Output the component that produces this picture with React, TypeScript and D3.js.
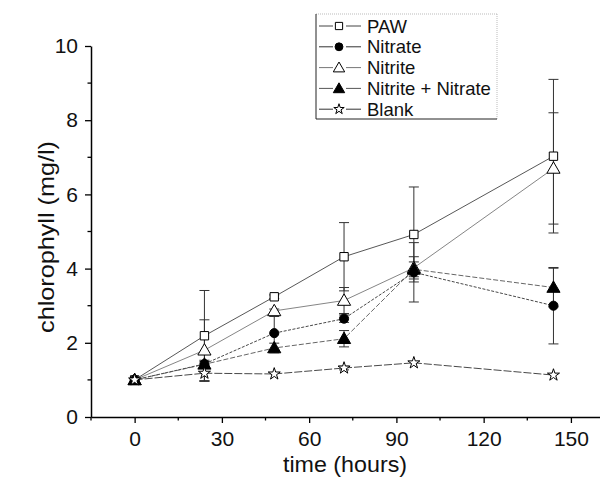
import React, { useEffect, useRef } from 'react';
import * as d3 from 'd3';

// time points (hours)
const times = [0, 24, 48, 72, 96, 144];

const seriesNames = ['PAW', 'Nitrate', 'Nitrite', 'Nitrite + Nitrate', 'Blank'];
const pawValues = [1.0, 2.19, 3.24, 4.32, 4.92, 7.03];
const nitrateValues = [1.0, 1.43, 2.26, 2.65, 3.9, 3.0];
const nitriteValues = [1.0, 1.8, 2.86, 3.14, 4.02, 6.7];
const nitNitValues = [1.0, 1.42, 1.86, 2.11, 3.98, 3.49];
const blankValues = [1.0, 1.18, 1.16, 1.32, 1.46, 1.13];

const pawErr = [0, 1.22, 0.05, 0.92, 1.28, 2.07];
const nitrateErr = [0, 0.1, 0.45, 0.1, 0.8, 1.03];
const nitriteErr = [0, 0.82, 0.05, 0.35, 0.3, 1.5];
const nitNitErr = [0, 0.08, 0.13, 0.22, 0.2, 0.52];
const blankErr = [0, 0.22, 0.02, 0.05, 0.03, 0.02];

const xTicks = [0, 30, 60, 90, 120, 150];
const yTicks = [0, 2, 4, 6, 8, 10];

const FONT = '"Liberation Sans", Arial, sans-serif';

function App() {
  const ref = useRef<SVGSVGElement>(null);

  useEffect(() => {
    const width = 600;
    const height = 485;
    const svg = d3.select(ref.current)
      .attr('width', width)
      .attr('height', height)
      .style('font-family', FONT);
    svg.selectAll('*').remove();

    const x = d3.scaleLinear().domain([-15, 160]).range([91, 600]);
    const y = d3.scaleLinear().domain([0, 10]).range([417, 46]);

    const series = [
      { name: seriesNames[0], values: pawValues, err: pawErr, symbol: 'square', fill: 'white', dash: null, stroke: '#444' },
      { name: seriesNames[1], values: nitrateValues, err: nitrateErr, symbol: 'circle', fill: 'black', dash: '3,1.5', stroke: '#333' },
      { name: seriesNames[2], values: nitriteValues, err: nitriteErr, symbol: 'triangle', fill: 'white', dash: null, stroke: '#777' },
      { name: seriesNames[3], values: nitNitValues, err: nitNitErr, symbol: 'triangle', fill: 'black', dash: '5,2', stroke: '#555' },
      { name: seriesNames[4], values: blankValues, err: blankErr, symbol: 'star', fill: 'white', dash: '8,2', stroke: '#333' },
    ];

    const symbolType = (s: string) => s === 'square' ? d3.symbolSquare
      : s === 'circle' ? d3.symbolCircle
      : s === 'triangle' ? d3.symbolTriangle
      : d3.symbolStar;
    const symbolSize = (s: string) => s === 'square' ? 70
      : s === 'circle' ? 65
      : s === 'triangle' ? 75
      : 45;

    // axes
    const xAxis = svg.append('g')
      .attr('transform', `translate(0,${y(0)})`)
      .call(d3.axisBottom(x).tickValues(xTicks).tickSize(6).tickPadding(8).tickSizeOuter(0));
    xAxis.attr('font-family', FONT);
    xAxis.select('.domain').attr('stroke', '#000').attr('stroke-width', 1.5);
    xAxis.selectAll('.tick line').attr('stroke-width', 1.3);
    xAxis.selectAll('.tick text').attr('font-size', 21).attr('fill', '#111');
    xAxis.append('g')
      .selectAll('line')
      .data(d3.range(-15, 160, 30))
      .join('line')
        .attr('x1', d => x(d)).attr('x2', d => x(d))
        .attr('y1', 0).attr('y2', 3.5)
        .attr('stroke', '#000').attr('stroke-width', 1.3);

    const yAxis = svg.append('g')
      .attr('transform', `translate(${x(-15)},0)`)
      .call(d3.axisLeft(y).tickValues(yTicks).tickSize(6).tickPadding(7).tickSizeOuter(0));
    yAxis.attr('font-family', FONT);
    yAxis.select('.domain').attr('stroke', '#000').attr('stroke-width', 1.5);
    yAxis.selectAll('.tick line').attr('stroke-width', 1.3);
    yAxis.selectAll('.tick text').attr('font-size', 21).attr('fill', '#111');
    yAxis.append('g')
      .selectAll('line')
      .data(d3.range(1, 10, 2))
      .join('line')
        .attr('y1', d => y(d)).attr('y2', d => y(d))
        .attr('x1', 0).attr('x2', -3.5)
        .attr('stroke', '#000').attr('stroke-width', 1.3);

    svg.append('text')
      .attr('x', 345)
      .attr('y', 472)
      .attr('text-anchor', 'middle')
      .attr('font-size', 22)
      .attr('fill', '#111')
      .attr('textLength', 124)
      .attr('lengthAdjust', 'spacingAndGlyphs')
      .text('time (hours)');

    svg.append('text')
      .attr('transform', `translate(54,237) rotate(-90)`)
      .attr('text-anchor', 'middle')
      .attr('font-size', 22)
      .attr('fill', '#111')
      .attr('textLength', 192)
      .attr('lengthAdjust', 'spacingAndGlyphs')
      .text('chlorophyll (mg/l)');

    // error bars
    series.forEach(s => {
      const g = svg.append('g').attr('stroke', '#333').attr('stroke-width', 1);
      times.forEach((t, i) => {
        const e = s.err[i];
        if (e <= 0.03) return;
        const cx = x(t);
        const top = y(s.values[i] + e);
        const bot = y(s.values[i] - e);
        g.append('line').attr('x1', cx).attr('x2', cx).attr('y1', top).attr('y2', bot);
        g.append('line').attr('x1', cx - 5).attr('x2', cx + 5).attr('y1', top).attr('y2', top);
        g.append('line').attr('x1', cx - 5).attr('x2', cx + 5).attr('y1', bot).attr('y2', bot);
      });
    });

    // lines
    const line = d3.line<number>()
      .x((_, i) => x(times[i]))
      .y(d => y(d));
    series.forEach(s => {
      svg.append('path')
        .attr('d', line(s.values))
        .attr('fill', 'none')
        .attr('stroke', s.stroke)
        .attr('stroke-width', 0.9)
        .attr('stroke-dasharray', s.dash);
    });

    // markers
    series.forEach(s => {
      svg.append('g')
        .selectAll('path')
        .data(s.values)
        .join('path')
          .attr('transform', (d, i) => `translate(${x(times[i])},${y(d) + (s.symbol === 'triangle' ? 1 : 0)})`)
          .attr('d', d3.symbol(symbolType(s.symbol), symbolSize(s.symbol)))
          .attr('fill', s.fill)
          .attr('stroke', '#000')
          .attr('stroke-width', 1);
    });

    // legend
    const lg = svg.append('g');
    lg.append('line').attr('x1', 316).attr('x2', 497).attr('y1', 14).attr('y2', 14).attr('stroke', '#bbb').attr('stroke-dasharray', '1,1');
    lg.append('line').attr('x1', 497).attr('x2', 497).attr('y1', 14).attr('y2', 119).attr('stroke', '#bbb').attr('stroke-dasharray', '1,1');
    lg.append('line').attr('x1', 316).attr('x2', 316).attr('y1', 14).attr('y2', 119).attr('stroke', '#222');
    lg.append('line').attr('x1', 316).attr('x2', 497).attr('y1', 119).attr('y2', 119).attr('stroke', '#222');
    series.forEach((s, i) => {
      const ly = 26 + i * 20.8;
      lg.append('line').attr('x1', 319).attr('x2', 333).attr('y1', ly).attr('y2', ly).attr('stroke', s.stroke).attr('stroke-width', 1);
      lg.append('line').attr('x1', 346).attr('x2', 361).attr('y1', ly).attr('y2', ly).attr('stroke', s.stroke).attr('stroke-width', 1);
      lg.append('path')
        .attr('transform', `translate(339,${ly + (s.symbol === 'triangle' ? 1 : 0)})`)
        .attr('d', d3.symbol(symbolType(s.symbol), symbolSize(s.symbol) * 0.75)())
        .attr('fill', s.fill)
        .attr('stroke', '#000')
        .attr('stroke-width', 1);
      lg.append('text')
        .attr('x', 367)
        .attr('y', ly + 6.5)
        .attr('font-size', 18.5)
        .attr('fill', '#111')
        .text(s.name);
    });
  }, []);

  return <svg ref={ref} style={{ position: 'absolute', left: 0, top: 0 }} />;
}

export default App;
